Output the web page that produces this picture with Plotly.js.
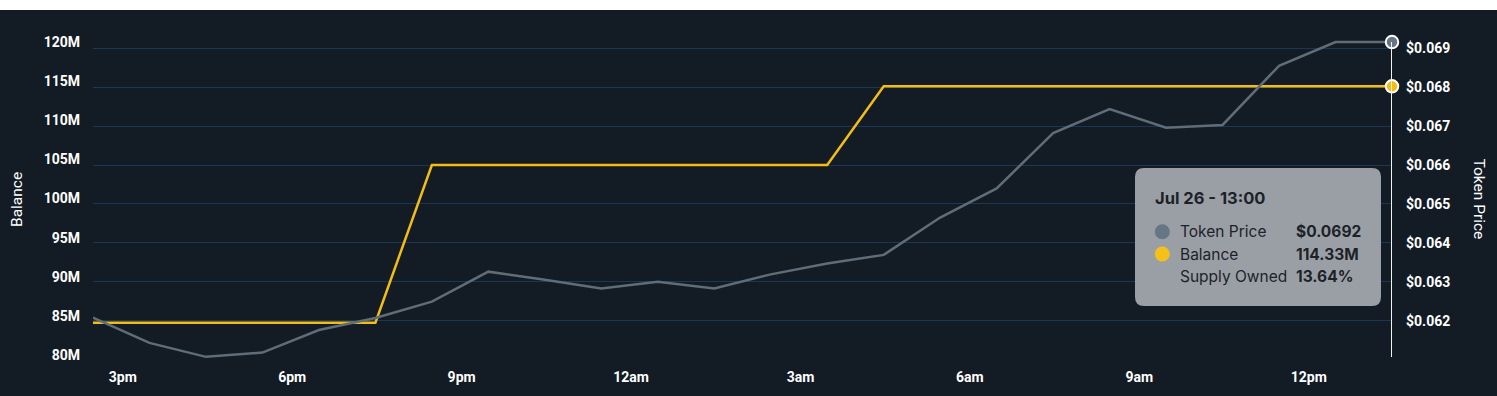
<!DOCTYPE html>
<html>
<head>
<meta charset="utf-8">
<script src="https://cdn.plot.ly/plotly-3.0.1.min.js"></script>
<style>
  html, body { margin: 0; padding: 0; background: #ffffff; }
  #chart { position: absolute; left: 0; top: 10px; width: 1497px; height: 386px; }
</style>
</head>
<body>
<div id="chart"></div>
<script>
// ---------------- data ----------------
const times = [
  "2024-07-25 14:00", "2024-07-25 15:00", "2024-07-25 16:00", "2024-07-25 17:00",
  "2024-07-25 18:00", "2024-07-25 19:00", "2024-07-25 20:00", "2024-07-25 21:00",
  "2024-07-25 22:00", "2024-07-25 23:00", "2024-07-26 00:00", "2024-07-26 01:00",
  "2024-07-26 02:00", "2024-07-26 03:00", "2024-07-26 04:00", "2024-07-26 05:00",
  "2024-07-26 06:00", "2024-07-26 07:00", "2024-07-26 08:00", "2024-07-26 09:00",
  "2024-07-26 10:00", "2024-07-26 11:00", "2024-07-26 12:00", "2024-07-26 13:00"
];
const tokenPrice = [
  0.06208, 0.06143, 0.06107, 0.06118, 0.06176, 0.06207, 0.06249, 0.06326,
  0.06305, 0.06283, 0.06300, 0.06283, 0.06319, 0.06347, 0.06369, 0.06465,
  0.06540, 0.06682, 0.06744, 0.06696, 0.06703, 0.06855, 0.06916, 0.06916
];
const balance = [
  84.13e6, 84.13e6, 84.13e6, 84.13e6, 84.13e6, 84.13e6,
  104.28e6, 104.28e6, 104.28e6, 104.28e6, 104.28e6, 104.28e6, 104.28e6, 104.28e6,
  114.33e6, 114.33e6, 114.33e6, 114.33e6, 114.33e6, 114.33e6, 114.33e6, 114.33e6, 114.33e6, 114.33e6
];
const supplyOwnedPct = 13.64;
const tooltipTitle = "Jul 26 - 13:00";

const xTickTimes = ["2024-07-25 15:00", "2024-07-25 18:00", "2024-07-25 21:00", "2024-07-26 00:00",
                    "2024-07-26 03:00", "2024-07-26 06:00", "2024-07-26 09:00", "2024-07-26 12:00"];
const xTickText = ["3pm", "6pm", "9pm", "12am", "3am", "6am", "9am", "12pm"];
const balanceTicks = [80e6, 85e6, 90e6, 95e6, 100e6, 105e6, 110e6, 115e6, 120e6];
const balanceTickText = ["80M", "85M", "90M", "95M", "100M", "105M", "110M", "115M", "120M"];
const priceTicks = [0.062, 0.063, 0.064, 0.065, 0.066, 0.067, 0.068, 0.069];
const priceTickText = ["$0.062", "$0.063", "$0.064", "$0.065", "$0.066", "$0.067", "$0.068", "$0.069"];

// ---------------- styling / layout helpers ----------------
const BG = "#131b25";
const GRAY = "#5f6d79";
const YELLOW = "#f3bd16";
const PL = 93, PR = 1392, PT = 30, PB = 365; // plot area in page px (div offset 10)
const px = x => (x - PL) / (PR - PL);
const py = y => (PB - y) / (PB - PT);

// label offset used by the original chart (labels sit ~28 min before the hour)
const labelShiftMs = 28.4 * 60 * 1000;
const toMs = s => new Date(s.replace(" ", "T") + ":00Z").getTime();
const fmt = ms => new Date(ms).toISOString().replace("T", " ").slice(0, 19);
const xTickVals = xTickTimes.map(t => fmt(toMs(t) - labelShiftMs));

const last = times.length - 1;
const axisFont = { family: "Roboto, sans-serif", size: 14, color: "#ffffff", weight: 700 };
const tipFont = { family: "Inter, sans-serif", size: 15.5, color: "#1d2229" };
const tipBold = { family: "Inter, sans-serif", size: 15.5, color: "#1d2229", weight: 700 };
const tipTitleFont = { family: "Inter, sans-serif", size: 16.5, color: "#1d2229", weight: 700 };

const y2Range = [0.0608607, 0.0694703];
const y1Range = [78.722e6, 121.534e6];

const traces = [
  {
    x: times, y: balance, type: "scatter", mode: "lines", name: "Balance",
    line: { color: YELLOW, width: 2.5 }, yaxis: "y", hoverinfo: "skip"
  },
  {
    x: times, y: tokenPrice, type: "scatter", mode: "lines", name: "Token Price",
    line: { color: GRAY, width: 2.5 }, yaxis: "y2", hoverinfo: "skip"
  },
  {
    x: [times[last]], y: [balance[last]], type: "scatter", mode: "markers", yaxis: "y",
    marker: { color: YELLOW, size: 12.5, line: { color: "#ffffff", width: 2 } },
    hoverinfo: "skip", cliponaxis: false
  },
  {
    x: [times[last]], y: [tokenPrice[last]], type: "scatter", mode: "markers", yaxis: "y2",
    marker: { color: "#667684", size: 12.5, line: { color: "#ffffff", width: 2 } },
    hoverinfo: "skip", cliponaxis: false
  }
];

const tipX = px(1258), tipY = py(237);
const shapes = [
  // hover spike line
  {
    type: "line", xref: "x", yref: "y2",
    x0: times[last], x1: times[last],
    y0: tokenPrice[last], y1: y2Range[0] + (y2Range[1] - y2Range[0]) * py(357),
    line: { color: "#f2f2f2", width: 2 }, layer: "above"
  },
  // tooltip box
  {
    type: "path", xref: "paper", yref: "paper", xsizemode: "pixel", ysizemode: "pixel",
    xanchor: tipX, yanchor: tipY,
    path: "M -114 -69 L 114 -69 Q 123 -69 123 -60 L 123 60 Q 123 69 114 69 L -114 69 Q -123 69 -123 60 L -123 -60 Q -123 -69 -114 -69 Z",
    fillcolor: "#9a9fa5", line: { width: 0 }, layer: "above"
  },
  {
    type: "circle", xref: "paper", yref: "paper", xsizemode: "pixel", ysizemode: "pixel",
    xanchor: px(1162.3), yanchor: py(231.7), x0: -7.5, x1: 7.5, y0: -7.5, y1: 7.5,
    fillcolor: "#667684", line: { width: 0 }, layer: "above"
  },
  {
    type: "circle", xref: "paper", yref: "paper", xsizemode: "pixel", ysizemode: "pixel",
    xanchor: px(1162.3), yanchor: py(254), x0: -7.5, x1: 7.5, y0: -7.5, y1: 7.5,
    fillcolor: "#f5c118", line: { width: 0 }, layer: "above"
  }
];

const ann = (text, x, y, font, xanchor) => ({
  text, x, y, xref: "paper", yref: "paper", showarrow: false,
  xanchor: xanchor || "left", yanchor: "middle", font
});

const titleFont = { family: "Roboto, sans-serif", size: 15.5, color: "#ffffff" };
const annotations = [
  // axis titles
  { text: "Balance", x: px(17), y: py(200), xref: "paper", yref: "paper", showarrow: false,
    xanchor: "center", yanchor: "middle", textangle: -90, font: titleFont },
  { text: "Token Price", x: px(1478), y: py(198.5), xref: "paper", yref: "paper", showarrow: false,
    xanchor: "center", yanchor: "middle", textangle: 90, font: titleFont },
  // tooltip text
  ann(tooltipTitle, px(1153), py(198), tipTitleFont),
  ann("Token Price", px(1178), py(231.7), tipFont),
  ann("$" + tokenPrice[last].toFixed(4), px(1294), py(231.7), tipBold),
  ann("Balance", px(1178), py(254), tipFont),
  ann((balance[last] / 1e6).toFixed(2) + "M", px(1294), py(254), tipBold),
  ann("Supply Owned", px(1178), py(276.7), tipFont),
  ann(supplyOwnedPct.toFixed(2) + "%", px(1294), py(276.7), tipBold)
];

const layout = {
  width: 1497, height: 386,
  margin: { l: PL, r: 1497 - PR, t: PT - 10, b: 396 - PB },
  paper_bgcolor: BG, plot_bgcolor: BG,
  showlegend: false, hovermode: false,
  xaxis: {
    type: "date", range: [times[0], times[last]],
    showgrid: false, zeroline: false, showline: false, ticks: "",
    tickmode: "array", tickvals: xTickVals, ticktext: xTickText,
    tickfont: axisFont, ticklabelstandoff: 2
  },
  yaxis: {
    range: y1Range, showgrid: false, zeroline: false, showline: false, ticks: "",
    tickmode: "array", tickvals: balanceTicks, ticktext: balanceTickText,
    tickfont: axisFont, ticklabelstandoff: 12
  },
  yaxis2: {
    range: y2Range, overlaying: "y", side: "right",
    showgrid: true, gridcolor: "#1a3856", gridwidth: 1,
    zeroline: false, showline: false, ticks: "",
    tickmode: "array", tickvals: priceTicks, ticktext: priceTickText,
    tickfont: axisFont, ticklabelstandoff: 13
  },
  shapes, annotations
};

Plotly.newPlot("chart", traces, layout, { displayModeBar: false, staticPlot: true });
</script>
</body>
</html>
